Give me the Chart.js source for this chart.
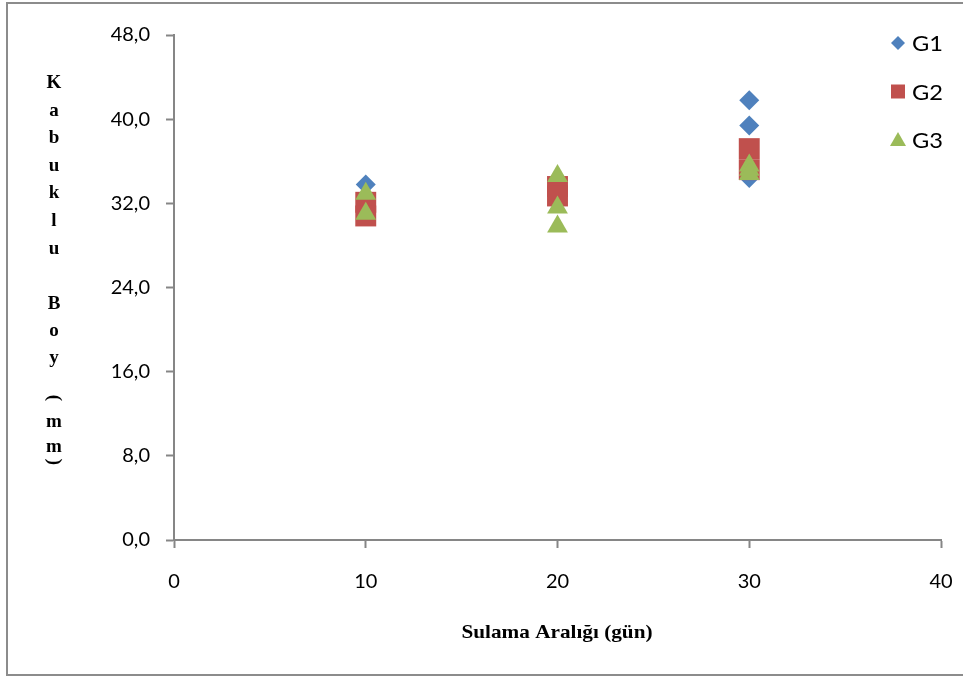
<!DOCTYPE html>
<html><head><meta charset="utf-8">
<script src="https://cdn.jsdelivr.net/npm/chart.js@4/dist/chart.umd.min.js"></script>
<style>html,body{margin:0;padding:0;background:#fff}#wrap{position:relative;width:963px;height:680px}</style>
</head><body><div id="wrap"><canvas id="c" width="963" height="680"></canvas></div>
<script>
// ---- data ----
const xTicks = [0, 10, 20, 30, 40];
const yTicks = [0, 8, 16, 24, 32, 40, 48];
const seriesNames = ['G1', 'G2', 'G3'];
const g1X = [10, 20, 30, 30, 30];
const g1Y = [33.8, 32.6, 41.8, 39.4, 34.4];
const g2X = [10, 10, 20, 20, 30, 30];
const g2Y = [32.1, 30.8, 33.6, 32.7, 37.2, 35.2];
const g3X = [10, 10, 20, 20, 20, 30, 30, 30];
const g3Y = [32.9, 31.0, 34.6, 31.6, 29.8, 35.6, 35.2, 34.8];
const xTitle = 'Sulama Aralığı (gün)';
const yTitle = 'Kabuklu Boy (mm)';

const colors = ['#4F81BD', '#C0504D', '#9BBB59'];
const styles = ['rectRot', 'rect', 'triangle'];
const radii = [10, 14.8, 12];
const pts = (xs, ys) => xs.map((x, i) => ({x: x, y: ys[i]}));
const seriesData = [pts(g1X, g1Y), pts(g2X, g2Y), pts(g3X, g3Y)];

const tickFont = {family: 'Lato, "Open Sans", sans-serif', size: 20};
const axisGray = '#868686';

function drawFit(ctx, text, x, y, targetW) {
  const w = ctx.measureText(text).width;
  const k = targetW / w;
  ctx.save();
  ctx.translate(x, y);
  ctx.scale(k, 1);
  ctx.fillText(text, 0, 0);
  ctx.restore();
}

const decor = {
  id: 'decor',
  beforeDraw(chart) {
    const ctx = chart.ctx;
    ctx.save();
    ctx.fillStyle = '#fff';
    ctx.fillRect(0, 0, chart.width, chart.height);
    ctx.strokeStyle = '#8c8c8c';
    ctx.lineWidth = 2;
    ctx.beginPath();
    ctx.moveTo(967, 3); ctx.lineTo(7, 3); ctx.lineTo(7, 675); ctx.lineTo(967, 675);
    ctx.stroke();
    ctx.restore();
  },
  afterDraw(chart) {
    const ctx = chart.ctx;
    ctx.save();
    // x title
    ctx.fillStyle = '#000';
    ctx.font = 'bold 19px "Liberation Serif", "DejaVu Serif", serif';
    ctx.textAlign = 'center';
    ctx.textBaseline = 'middle';
    drawFit(ctx, xTitle, 557, 633, 191);
    // y title stacked
    const ys = [83, 111, 138, 166, 193, 221, 249, null, 304, 331, 358, null, 398, 422, 447, 462];
    const chars = Array.from(yTitle);
    for (let i = 0; i < chars.length; i++) {
      const ch = chars[i];
      const py = ys[i];
      if (py == null || ch === ' ') continue;
      if (ch === '(' || ch === ')') {
        ctx.save();
        ctx.translate(54, py);
        ctx.rotate(Math.PI / 2);
        ctx.fillText(ch, 0, 0);
        ctx.restore();
        continue;
      }
      ctx.fillText(ch, 54, py);
    }
    // legend
    ctx.font = '22px Lato, "Open Sans", sans-serif';
    ctx.textAlign = 'left';
    chart.data.datasets.forEach((ds, i) => {
      const cy = 43 + i * 48.5;
      const cx = 898;
      ctx.fillStyle = ds.backgroundColor;
      ctx.beginPath();
      if (i === 0) {
        ctx.moveTo(cx, cy - 7); ctx.lineTo(cx + 7, cy); ctx.lineTo(cx, cy + 7); ctx.lineTo(cx - 7, cy);
      } else if (i === 1) {
        ctx.rect(cx - 7, cy - 7, 14, 14);
      } else {
        ctx.moveTo(cx, cy - 8); ctx.lineTo(cx + 8, cy + 6); ctx.lineTo(cx - 8, cy + 6);
      }
      ctx.closePath();
      ctx.fill();
      ctx.fillStyle = '#000';
      ctx.save();
      const w = ctx.measureText(ds.label).width;
      ctx.translate(912, cy + 1);
      ctx.scale(31 / w, 1);
      ctx.fillText(ds.label, 0, 0);
      ctx.restore();
    });
    ctx.restore();
  }
};

new Chart(document.getElementById('c'), {
  type: 'scatter',
  data: {
    datasets: seriesNames.map((n, i) => ({
      label: n,
      data: seriesData[i],
      order: seriesNames.length - i,
      backgroundColor: colors[i],
      borderColor: colors[i],
      borderWidth: 0,
      pointStyle: styles[i],
      pointRadius: radii[i],
      pointHoverRadius: radii[i]
    }))
  },
  options: {
    responsive: false,
    animation: false,
    devicePixelRatio: 1,
    layout: {padding: {top: 35, right: 22, left: 0, bottom: 0}},
    plugins: {legend: {display: false}, tooltip: {enabled: false}},
    scales: {
      x: {
        type: 'linear', min: xTicks[0], max: xTicks[xTicks.length - 1],
        afterBuildTicks: s => { s.ticks = xTicks.map(v => ({value: v})); },
        afterFit: s => { s.height = 140; s.paddingRight = 0; s.paddingLeft = 0; },
        ticks: {color: '#000', font: tickFont, padding: 22, maxRotation: 0},
        grid: {drawOnChartArea: false, drawTicks: true, tickLength: 8, tickColor: axisGray, tickWidth: 2},
        border: {display: true, color: axisGray, width: 2}
      },
      y: {
        min: yTicks[0], max: yTicks[yTicks.length - 1],
        afterBuildTicks: s => { s.ticks = yTicks.map(v => ({value: v})); },
        afterFit: s => { s.width = 174; s.paddingTop = 0; s.paddingBottom = 0; },
        ticks: {color: '#000', font: tickFont, padding: 16,
          callback: v => v.toFixed(1).replace('.', ',')},
        grid: {drawOnChartArea: false, drawTicks: true, tickLength: 8, tickColor: axisGray, tickWidth: 2},
        border: {display: true, color: axisGray, width: 2}
      }
    }
  },
  plugins: [decor]
});
</script></body></html>
